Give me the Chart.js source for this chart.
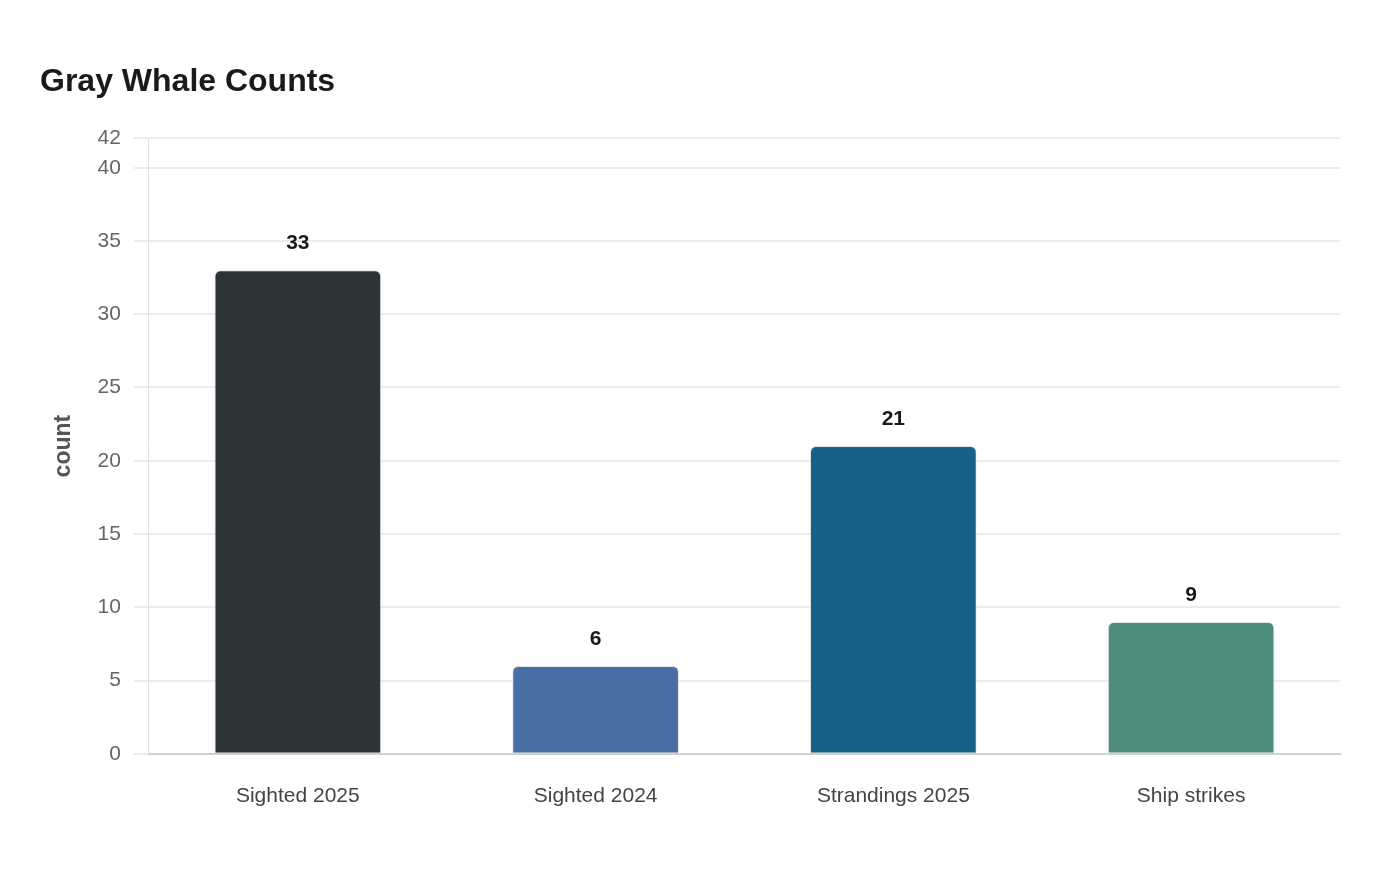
<!DOCTYPE html>
<html lang="en">
<head>
<meta charset="utf-8">
<title>Gray Whale Counts</title>
<script src="https://cdn.jsdelivr.net/npm/chart.js@4.4.1/dist/chart.umd.min.js"></script>
<style>
  html, body { margin: 0; padding: 0; background: #fff; }
  .wrap { position: relative; width: 1400px; height: 880px; }
</style>
</head>
<body>
<div class="wrap"><canvas id="chart"></canvas></div>
<script>
const categories = ['Sighted 2025', 'Sighted 2024', 'Strandings 2025', 'Ship strikes'];
const counts = [33, 6, 21, 9];
const barColors = ['#2d3436', '#4a6fa5', '#176087', '#4e8c7b'];
const yTicks = [0, 5, 10, 15, 20, 25, 30, 35, 40, 42];

const fontFamily = '"Liberation Sans", Arial, sans-serif';

// draws the value above each bar
const valueLabels = {
  id: 'valueLabels',
  afterDatasetsDraw(chart) {
    const ctx = chart.ctx;
    const meta = chart.getDatasetMeta(0);
    ctx.save();
    ctx.font = 'bold 21px ' + fontFamily;
    ctx.fillStyle = '#1a1a1a';
    ctx.textAlign = 'center';
    ctx.textBaseline = 'middle';
    meta.data.forEach((bar, i) => {
      ctx.fillText(String(counts[i]), bar.x, bar.y - 27);
    });
    ctx.restore();
  }
};

const config = {
  type: 'bar',
  data: {
    labels: categories,
    datasets: [{
      data: counts,
      backgroundColor: barColors,
      borderColor: 'rgba(220,225,230,0.8)',
      borderWidth: 1,
      borderSkipped: 'bottom',
      borderRadius: { topLeft: 6, topRight: 6, bottomLeft: 0, bottomRight: 0 },
      categoryPercentage: 0.8,
      barPercentage: 0.7
    }]
  },
  options: {
    responsive: true,
    maintainAspectRatio: false,
    animation: false,
    layout: { padding: { left: 40, right: 60, top: 63, bottom: 49 } },
    plugins: {
      legend: { display: false },
      tooltip: { enabled: false },
      title: {
        display: true,
        text: 'Gray Whale Counts',
        align: 'start',
        color: '#1a1a1a',
        font: { family: fontFamily, size: 32, weight: 'bold' },
        padding: { top: 0, bottom: 37 }
      }
    },
    scales: {
      x: {
        grid: { display: false },
        border: { color: '#d0d0d0', width: 2 },
        ticks: {
          color: '#444',
          padding: 22,
          font: { family: fontFamily, size: 21 }
        }
      },
      y: {
        min: 0,
        max: 42,
        afterBuildTicks(axis) {
          axis.ticks = yTicks.map(v => ({ value: v }));
        },
        grid: { color: '#ececec', lineWidth: 2, tickLength: 15 },
        border: { color: '#e0e0e0', width: 1 },
        ticks: {
          color: '#666',
          padding: 13,
          font: { family: fontFamily, size: 21 }
        },
        title: {
          display: true,
          text: 'count',
          color: '#555',
          font: { family: fontFamily, size: 23, weight: 'bold' },
          padding: { top: 10, bottom: 7 }
        }
      }
    }
  },
  plugins: [valueLabels]
};

var chart = new Chart(document.getElementById('chart'), config);
</script>
</body>
</html>
